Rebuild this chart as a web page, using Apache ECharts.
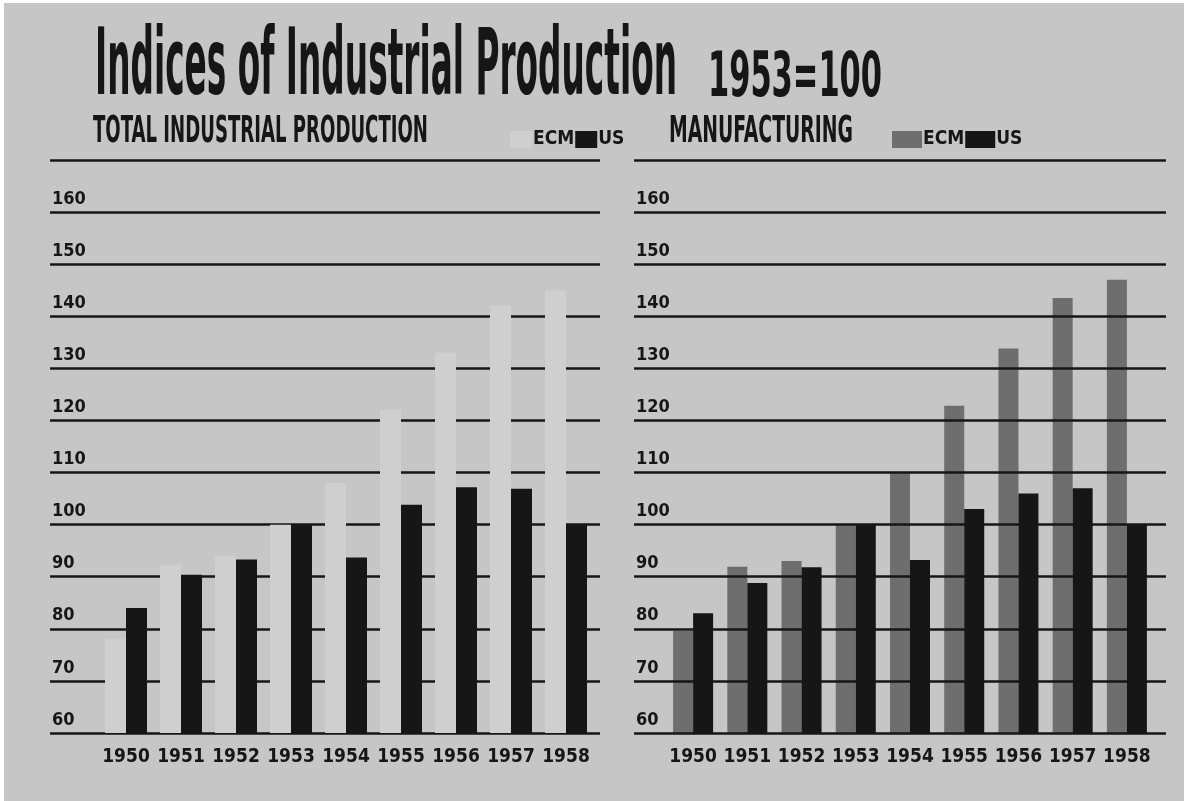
<!DOCTYPE html>
<html>
<head>
<meta charset="utf-8">
<script src="https://cdn.jsdelivr.net/npm/echarts@6/dist/echarts.min.js"></script>
<style>
html, body { margin: 0; padding: 0; background: #fff; }
#main { width: 1184px; height: 801px; }
</style>
</head>
<body>
<div id="main"></div>
<script>
"use strict"
// years on the x axis
var years = ['1950', '1951', '1952', '1953', '1954', '1955', '1956', '1957', '1958'];
// total industrial production, 1953 = 100
var totalEcm = [78, 92.3, 94, 100, 108, 122, 133, 142, 145];
var totalUs = [84, 90.4, 93.3, 100, 93.7, 103.8, 107.2, 106.9, 100];
// manufacturing, 1953 = 100
var mfgEcm = [79.6, 91.9, 93, 100, 110, 122.8, 133.8, 143.5, 147];
var mfgUs = [83, 88.8, 91.8, 100, 93.2, 103, 106, 107, 100];
// y axis ticks (the top line at 170 carries no label)
var yMin = 60, yMax = 170, yStep = 10;

var NARROW = '"Liberation Sans Narrow", "DejaVu Sans Condensed", "Arial Narrow", sans-serif';
var INK = '#161616';
var BG = '#c6c6c6';
var PALE = '#cfcfcf';

// squeeze a text to a given width, the print uses a very condensed face
var measure = document.createElement('canvas').getContext('2d');
function fit(text, size, width) {
    measure.font = 'bold ' + size + 'px ' + NARROW;
    return width / measure.measureText(text).width;
}
function headText(text, x, y, size, width) {
    return {
        type: 'text',
        x: x,
        y: y,
        scaleX: fit(text, size, width),
        silent: true,
        style: {
            text: text,
            fill: INK,
            fontFamily: NARROW,
            fontWeight: 'bold',
            fontSize: size,
            align: 'left',
            verticalAlign: 'bottom'
        }
    };
}

var valueAxis = function(gridIndex, show, z) {
    return {
        type: 'value',
        gridIndex: gridIndex,
        min: yMin,
        max: yMax,
        interval: yStep,
        show: show,
        z: z,
        axisLine: { show: false },
        axisTick: { show: false },
        splitLine: {
            show: true,
            showMinLine: true,
            showMaxLine: true,
            lineStyle: { color: INK, width: 2.5 }
        },
        axisLabel: {
            inside: true,
            margin: 2,
            showMaxLabel: false,
            verticalAlign: 'bottom',
            padding: [0, 0, 4, 0],
            color: INK,
            fontFamily: NARROW,
            fontWeight: 'bold',
            fontSize: 18
        }
    };
};
var yearAxis = function(gridIndex) {
    return {
        type: 'category',
        gridIndex: gridIndex,
        data: years,
        axisLine: { show: false },
        axisTick: { show: false },
        splitLine: { show: false },
        axisLabel: {
            interval: 0,
            margin: 15,
            color: INK,
            fontFamily: NARROW,
            fontWeight: 'bold',
            fontSize: 19
        }
    };
};
var blankX = function(gridIndex) {
    return { type: 'value', gridIndex: gridIndex, min: 0, max: 1, show: false };
};
var legendFor = function(left, ecmColor, width) {
    return {
        left: left,
        top: 125,
        icon: 'rect',
        itemWidth: width,
        itemHeight: 17,
        itemGap: 1,
        selectedMode: false,
        data: [
            { name: 'ECM', itemStyle: { color: ecmColor } },
            { name: 'US', itemStyle: { color: INK } }
        ],
        textStyle: {
            color: INK,
            fontFamily: NARROW,
            fontWeight: 'bold',
            fontSize: 19,
            padding: [2, 0, 0, -4]
        }
    };
};

var option = {
    backgroundColor: BG,
    animation: false,
    graphic: [
        { type: 'rect', shape: { x: 0, y: 0, width: 4, height: 801 }, style: { fill: '#fff' }, silent: true },
        { type: 'rect', shape: { x: 0, y: 0, width: 1184, height: 3 }, style: { fill: '#fff' }, silent: true },
        headText('Indices of Industrial Production', 95, 116, 92, 582),
        headText('1953=100', 708, 111, 62, 174),
        headText('TOTAL INDUSTRIAL PRODUCTION', 93, 151, 37, 335),
        headText('MANUFACTURING', 669, 151, 37, 184)
    ],
    legend: [
        legendFor(505, PALE, 22),
        legendFor(887, '#6e6e6e', 30)
    ],
    grid: [
        { left: 50, top: 160, width: 550, height: 573 },
        { left: 98.5, top: 160, width: 495, height: 573 },
        { left: 634, top: 160, width: 532, height: 573 },
        { left: 666, top: 160, width: 488, height: 573 }
    ],
    xAxis: [blankX(0), yearAxis(1), blankX(2), yearAxis(3)],
    yAxis: [
        valueAxis(0, true, 0),
        valueAxis(1, false, 0),
        valueAxis(2, true, 3),
        valueAxis(3, false, 0)
    ],
    series: [{
        name: 'ECM',
        type: 'bar',
        xAxisIndex: 1,
        yAxisIndex: 1,
        barWidth: 21,
        barGap: '0%',
        itemStyle: { color: PALE },
        data: totalEcm
    }, {
        name: 'US',
        type: 'bar',
        xAxisIndex: 1,
        yAxisIndex: 1,
        barWidth: 21,
        barGap: '0%',
        itemStyle: { color: INK },
        data: totalUs
    }, {
        name: 'ECM',
        type: 'bar',
        xAxisIndex: 3,
        yAxisIndex: 3,
        barWidth: 20,
        barGap: '0%',
        itemStyle: { color: '#6e6e6e' },
        data: mfgEcm
    }, {
        name: 'US',
        type: 'bar',
        xAxisIndex: 3,
        yAxisIndex: 3,
        barWidth: 20,
        barGap: '0%',
        itemStyle: { color: INK },
        data: mfgUs
    }]
};

var chart = echarts.init(document.getElementById('main'));
chart.setOption(option);
</script>
</body>
</html>
